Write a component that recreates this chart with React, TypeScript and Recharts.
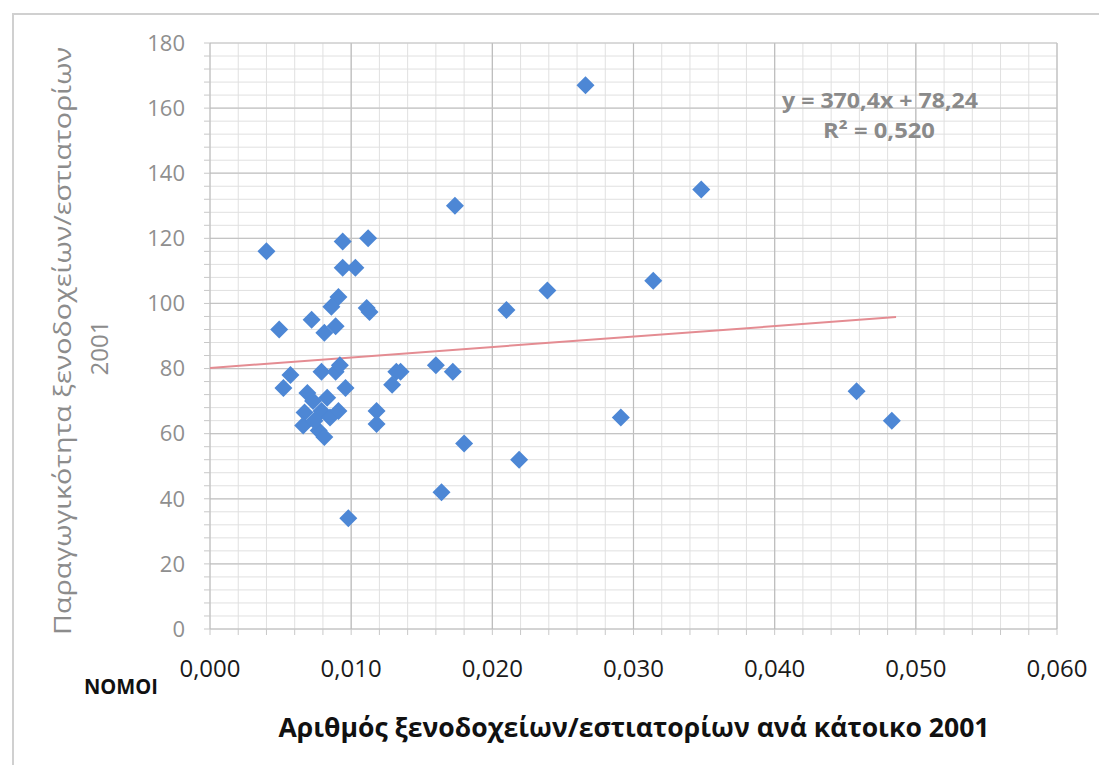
import React from 'react';
import {
  ScatterChart,
  Scatter,
  XAxis,
  YAxis,
  CartesianGrid,
  ReferenceLine,
} from 'recharts';

// Αριθμός ξενοδοχείων/εστιατορίων ανά κάτοικο 2001 (x) vs Παραγωγικότητα (y)
const pointX = [
  0.0266, 0.01735, 0.0348, 0.0314, 0.0239, 0.0210, 0.0160, 0.0172, 0.0135, 0.0458,
  0.0483, 0.0291, 0.0180, 0.0219, 0.0164, 0.0098,
  0.0040, 0.0094, 0.0112, 0.0094, 0.0103, 0.0091, 0.0086, 0.0111, 0.0113, 0.0072,
  0.0089, 0.0081, 0.0049,
  0.0057, 0.0052, 0.0079, 0.0089, 0.0092, 0.0096, 0.0132, 0.0129, 0.0118, 0.0118,
  0.0069, 0.0073, 0.0067, 0.0066, 0.0079, 0.0085, 0.0091, 0.0077, 0.0081, 0.0083, 0.0074,
];
const pointY = [
  167, 130, 135, 107, 104, 98, 81, 79, 79, 73,
  64, 65, 57, 52, 42, 34,
  116, 119, 120, 111, 111, 102, 99, 98.6, 97.4, 95,
  93, 91, 92,
  78, 74, 79, 79, 81, 74, 79, 75, 67, 63,
  72.5, 70, 66.5, 62.5, 67, 65, 67, 61, 59, 71, 64,
];

// trend line as drawn in the picture (start and end)
const trendX = [0, 0.0486];
const trendY = [80.2, 95.8];

const xMajorTicks = [0, 0.01, 0.02, 0.03, 0.04, 0.05, 0.06];
const xAllTicks = [
  0, 0.002, 0.004, 0.006, 0.008, 0.01, 0.012, 0.014, 0.016, 0.018, 0.02,
  0.022, 0.024, 0.026, 0.028, 0.03, 0.032, 0.034, 0.036, 0.038, 0.04,
  0.042, 0.044, 0.046, 0.048, 0.05, 0.052, 0.054, 0.056, 0.058, 0.06,
];
const yMajorTicks = [0, 20, 40, 60, 80, 100, 120, 140, 160, 180];
const yAllTicks = [
  0, 4, 8, 12, 16, 20, 24, 28, 32, 36, 40, 44, 48, 52, 56, 60, 64, 68, 72, 76, 80,
  84, 88, 92, 96, 100, 104, 108, 112, 116, 120, 124, 128, 132, 136, 140, 144, 148,
  152, 156, 160, 164, 168, 172, 176, 180,
];

const points = pointX.map((x, i) => ({ x, y: pointY[i] }));
const trend = trendX.map((x, i) => ({ x, y: trendY[i] }));

const isMajorX = (v: number) => xMajorTicks.some((t) => Math.abs(t - v) < 1e-9);
const isMajorY = (v: number) => yMajorTicks.includes(v);

const Diamond = (props: any) => {
  const { cx, cy } = props;
  if (cx == null || cy == null) return <g />;
  const r = 9;
  return (
    <polygon
      points={`${cx},${cy - r} ${cx + r},${cy} ${cx},${cy + r} ${cx - r},${cy}`}
      fill="#4d87d5"
    />
  );
};

const NoShape = () => <g />;

const FONT = '"Open Sans", "Noto Sans", sans-serif';

export default function App() {
  return (
    <div
      style={{
        position: 'relative',
        width: 1107,
        height: 773,
        margin: -8,
        overflow: 'hidden',
        background: '#ffffff',
        fontFamily: FONT,
      }}
    >
      <div
        style={{
          position: 'absolute',
          left: 12,
          top: 13,
          width: 1200,
          height: 1000,
          border: '2px solid #d0d0d0',
        }}
      />
      <div style={{ position: 'absolute', left: 0, top: 0 }}>
        <ScatterChart
          width={1107}
          height={773}
          margin={{ top: 43, right: 50, bottom: 0, left: 0 }}
        >
          <CartesianGrid stroke="#e0e0e0" strokeWidth={1} />
          {xMajorTicks
            .filter((v) => v > 0)
            .map((v) => (
              <ReferenceLine key={'vx' + v} x={v} stroke="#bcbcbc" strokeWidth={1.2} />
            ))}
          {yMajorTicks
            .filter((v) => v > 0)
            .map((v) => (
              <ReferenceLine key={'hy' + v} y={v} stroke="#c4c4c4" strokeWidth={1.2} />
            ))}
          <XAxis
            dataKey="x"
            type="number"
            domain={[0, 0.06]}
            ticks={xAllTicks}
            interval={0}
            height={144}
            allowDataOverflow
            tickFormatter={(v: number) => (isMajorX(v) ? v.toFixed(3).replace('.', ',') : '')}
            tick={{ fill: '#1a1a1a', fontSize: 24, fontFamily: FONT }}
            tickSize={6}
            tickMargin={25}
            axisLine={{ stroke: '#b8b8b8' }}
            tickLine={{ stroke: '#c8c8c8' }}
          />
          <YAxis
            dataKey="y"
            type="number"
            domain={[0, 180]}
            ticks={yAllTicks}
            interval={0}
            width={210}
            allowDataOverflow
            tickFormatter={(v: number) => (isMajorY(v) ? String(v) : '')}
            tick={{ fill: '#8f8f8f', fontSize: 22, fontFamily: FONT }}
            tickSize={6}
            tickMargin={19}
            axisLine={{ stroke: '#b8b8b8' }}
            tickLine={{ stroke: '#c8c8c8' }}
          />
          <Scatter
            data={trend}
            line={{ stroke: '#e48c92', strokeWidth: 2 }}
            shape={NoShape}
            isAnimationActive={false}
            legendType="none"
          />
          <Scatter data={points} shape={Diamond} isAnimationActive={false} />
        </ScatterChart>
      </div>
      <svg
        width={1107}
        height={773}
        style={{ position: 'absolute', left: 0, top: 0, pointerEvents: 'none' }}
      >
        <text
          x={880}
          y={108}
          textAnchor="middle"
          fontFamily={FONT}
          fontWeight="bold"
          fontSize={21}
          fill="#8a8a8a"
          textLength={196}
          lengthAdjust="spacingAndGlyphs"
        >
          y = 370,4x + 78,24
        </text>
        <text
          x={879}
          y={138}
          textAnchor="middle"
          fontFamily={FONT}
          fontWeight="bold"
          fontSize={21}
          fill="#8a8a8a"
          textLength={112}
          lengthAdjust="spacingAndGlyphs"
        >
          R² = 0,520
        </text>
        <text
          transform="translate(71,341) rotate(-90)"
          textAnchor="middle"
          fontFamily={FONT}
          fontSize={24}
          fill="#8c8c8c"
          textLength={588}
          lengthAdjust="spacingAndGlyphs"
        >
          Παραγωγικότητα ξενοδοχείων/εστιατορίων
        </text>
        <text
          transform="translate(108,348) rotate(-90)"
          textAnchor="middle"
          fontFamily={FONT}
          fontSize={24}
          fill="#8c8c8c"
        >
          2001
        </text>
        <text
          x={84}
          y={694}
          fontFamily={FONT}
          fontWeight="bold"
          fontSize={22}
          fill="#111111"
          textLength={74}
          lengthAdjust="spacingAndGlyphs"
        >
          ΝΟΜΟΙ
        </text>
        <text
          x={634}
          y={737}
          textAnchor="middle"
          fontFamily={FONT}
          fontWeight="bold"
          fontSize={27}
          fill="#111111"
          textLength={711}
          lengthAdjust="spacingAndGlyphs"
        >
          Αριθμός ξενοδοχείων/εστιατορίων ανά κάτοικο 2001
        </text>
      </svg>
    </div>
  );
}
